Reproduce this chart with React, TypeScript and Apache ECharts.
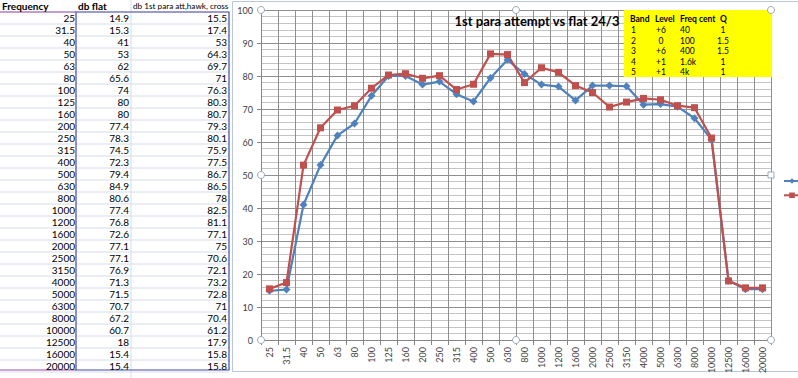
import React, { useEffect, useRef } from "react";
import * as echarts from "echarts";

const freqs = ["25","31.5","40","50","63","80","100","125","160","200","250","315","400","500","630","800","1000","1200","1600","2000","2500","3150","4000","5000","6300","8000","10000","12500","16000","20000"];
const dbFlat = [14.9,15.3,41,53,62,65.6,74,80,80,77.4,78.3,74.5,72.3,79.4,84.9,80.6,77.4,76.8,72.6,77.1,77.1,76.9,71.3,71.5,70.7,67.2,60.7,18,15.4,15.4];
const dbPara = [15.5,17.4,53,64.3,69.7,71,76.3,80.3,80.7,79.3,80.1,75.9,77.5,86.7,86.5,78,82.5,81.1,77.1,75,70.6,72.1,73.2,72.8,71,70.4,61.2,17.9,15.8,15.8];
const colHeaders = ["Frequency", "db flat", "db 1st para att,hawk, cross"];

const bandHeader = ["Band", "Level", "Freq cent", "Q"];
const bandNo = ["1", "2", "3", "4", "5"];
const bandLevel = ["+6", "0", "+6", "+1", "+1"];
const bandFreq = ["40", "100", "400", "1.6k", "4k"];
const bandQ = ["1", "1.5", "1.5", "1", "1"];

const TITLE = "1st para attempt vs flat 24/3";
const FONT = "Lato, 'Liberation Sans', sans-serif";

export default function App() {
  const ref = useRef<HTMLDivElement>(null);
  useEffect(() => {
    document.body.style.margin = "0";
    const chart = echarts.init(ref.current!, null, { renderer: "svg" });
    const g: any[] = [];
    // spreadsheet
    const rowH = 12;
    const top0 = 12;
    const nRows = freqs.length;
    const fs = 10;
    for (let i = 0; i <= nRows; i++) {
      g.push({ type: "line", shape: { x1: 0, y1: top0 + i * rowH, x2: 229, y2: top0 + i * rowH }, style: { stroke: "#d6dce8", lineWidth: 1 }, silent: true });
    }
    [131].forEach((x) => g.push({ type: "line", shape: { x1: x, y1: 0, x2: x, y2: 378 }, style: { stroke: "#d6dce8", lineWidth: 1 } }));
    g.push({ type: "line", shape: { x1: 0, y1: top0, x2: 76, y2: top0 }, style: { stroke: "#9b4fb0", lineWidth: 1.2 } });
    g.push({ type: "line", shape: { x1: 0, y1: top0 + nRows * rowH - 2, x2: 76, y2: top0 + nRows * rowH - 2 }, style: { stroke: "#9b4fb0", lineWidth: 1.2 } });
    g.push({ type: "rect", shape: { x: 76, y: top0, width: 153, height: nRows * rowH - 2 }, style: { fill: "none", stroke: "#4a4aa8", lineWidth: 1.2 } });
    g.push({ type: "text", x: 2, y: 6, style: { text: colHeaders[0], font: `bold ${fs}px ${FONT}`, fill: "#000", verticalAlign: "middle" } });
    g.push({ type: "text", x: 78, y: 6, style: { text: colHeaders[1], font: `bold ${fs}px ${FONT}`, fill: "#000", verticalAlign: "middle" } });
    g.push({ type: "text", x: 133, y: 6, style: { text: colHeaders[2], font: `8.2px ${FONT}`, fill: "#000", verticalAlign: "middle" } });
    for (let i = 0; i < nRows; i++) {
      const y = top0 + i * rowH + 6;
      g.push({ type: "text", x: 75, y, style: { text: freqs[i], font: `${fs}px ${FONT}`, fill: "#000", align: "right", verticalAlign: "middle" } });
      g.push({ type: "text", x: 129, y, style: { text: String(dbFlat[i]), font: `${fs}px ${FONT}`, fill: "#000", align: "right", verticalAlign: "middle" } });
      g.push({ type: "text", x: 227, y, style: { text: String(dbPara[i]), font: `${fs}px ${FONT}`, fill: "#000", align: "right", verticalAlign: "middle" } });
    }
    // chart border
    g.push({ type: "rect", shape: { x: 232.5, y: 1.5, width: 600, height: 370 }, style: { fill: "none", stroke: "#b8c8dc", lineWidth: 1 } });
    // yellow box
    g.push({ type: "rect", shape: { x: 624, y: 10, width: 148, height: 67 }, style: { fill: "#ffff00" }, z: 10 });
    const rowsY = [18.7, 29.5, 40.5, 51, 61.7, 72.3];
    const bf = `bold 8.5px ${FONT}`;
    const nf = `8.5px ${FONT}`;
    g.push({ type: "text", x: 630, y: rowsY[0], z: 11, style: { text: bandHeader[0], font: bf, fill: "#000", verticalAlign: "middle" } });
    g.push({ type: "text", x: 655, y: rowsY[0], z: 11, style: { text: bandHeader[1], font: bf, fill: "#000", verticalAlign: "middle" } });
    g.push({ type: "text", x: 680, y: rowsY[0], z: 11, style: { text: bandHeader[2], font: bf, fill: "#000", verticalAlign: "middle" } });
    g.push({ type: "text", x: 720, y: rowsY[0], z: 11, style: { text: bandHeader[3], font: bf, fill: "#000", verticalAlign: "middle" } });
    for (let i = 0; i < bandNo.length; i++) {
      const y = rowsY[i + 1];
      g.push({ type: "text", x: 631, y, z: 11, style: { text: bandNo[i], font: nf, fill: "#000", verticalAlign: "middle" } });
      g.push({ type: "text", x: 661, y, z: 11, style: { text: bandLevel[i], font: nf, fill: "#000", align: "center", verticalAlign: "middle" } });
      g.push({ type: "text", x: 680, y, z: 11, style: { text: bandFreq[i], font: nf, fill: "#000", verticalAlign: "middle" } });
      g.push({ type: "text", x: 723, y, z: 11, style: { text: bandQ[i], font: nf, fill: "#000", align: "center", verticalAlign: "middle" } });
    }
    // plot area handles
    const handles = [[261, 10], [516, 10], [771, 10], [261, 340], [516, 340], [771, 340], [261, 175]];
    handles.forEach(([x, y]) => g.push({ type: "circle", shape: { cx: x, cy: y, r: 3.5 }, style: { fill: "#fff", stroke: "#9aa8b8", lineWidth: 1 }, z: 12 }));
    g.push({ type: "rect", shape: { x: 768, y: 172, width: 6, height: 6 }, style: { fill: "#fff", stroke: "#9aa8b8", lineWidth: 1 }, z: 12 });

    chart.setOption({
      animation: false,
      backgroundColor: "#fff",
      textStyle: { fontFamily: FONT },
      title: {
        text: TITLE,
        left: 532,
        top: 9,
        textAlign: "center",
        textStyle: { fontFamily: FONT, fontWeight: "bold", fontSize: 13, color: "#000" },
      },
      legend: {
        orient: "vertical",
        left: 783,
        top: 177.5,
        padding: 0,
        itemGap: 8,
        itemWidth: 16,
        itemHeight: 7,
        formatter: () => "",
        textStyle: { fontSize: 10, color: "#000" },
        data: ["db flat", "db 1st para att,hawk, cross"],
      },
      grid: { left: 261, top: 10, width: 510, height: 330, containLabel: false },
      xAxis: {
        type: "category",
        data: freqs,
        boundaryGap: true,
        axisLine: { lineStyle: { color: "#868686", width: 1 } },
        axisTick: { show: true, length: 5, lineStyle: { color: "#868686" } },
        axisLabel: { rotate: 90, fontSize: 9, color: "#404040", margin: 7, interval: 0 },
        splitLine: { show: true, interval: 0, lineStyle: { color: "#8f8f8f", width: 1 } },
      },
      yAxis: {
        type: "value",
        min: 0,
        max: 100,
        interval: 10,
        axisLine: { show: true, lineStyle: { color: "#868686", width: 1 } },
        axisTick: { show: true, length: 4, lineStyle: { color: "#868686" } },
        axisLabel: { fontSize: 9, color: "#404040", margin: 8 },
        splitLine: { show: true, lineStyle: { color: "#8f8f8f", width: 1 } },
        minorTick: { show: false, splitNumber: 5 },
        minorSplitLine: { show: true, lineStyle: { color: "#c4c4c4", width: 1 } },
      },
      series: [
        {
          name: "db flat",
          type: "line",
          data: dbFlat,
          color: "#4f81bd",
          symbol: "diamond",
          symbolSize: 8,
          lineStyle: { width: 2.2, color: "#4f81bd" },
          itemStyle: { color: "#4f81bd" },
        },
        {
          name: "db 1st para att,hawk, cross",
          type: "line",
          data: dbPara,
          color: "#c0504d",
          symbol: "rect",
          symbolSize: 7,
          lineStyle: { width: 2.2, color: "#c0504d" },
          itemStyle: { color: "#c0504d" },
        },
      ],
      graphic: g,
    });
    return () => chart.dispose();
  }, []);
  return <div ref={ref} style={{ position: "absolute", left: 0, top: 0, width: 798, height: 378 }} />;
}
